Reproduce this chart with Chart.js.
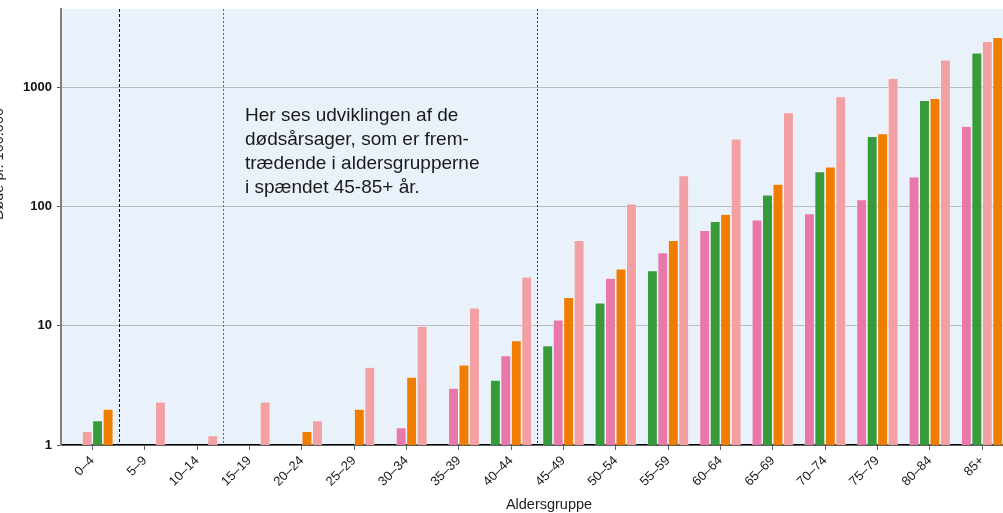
<!DOCTYPE html>
<html>
<head>
<meta charset="utf-8">
<script src="https://cdn.jsdelivr.net/npm/chart.js@4"></script>
<style>
  html, body { margin: 0; padding: 0; background: #fff; }
  #wrap { width: 1003px; height: 513px; }
</style>
</head>
<body>
<div id="wrap"><canvas id="chart"></canvas></div>
<script>
// Age groups on the x axis
const ageGroups = [
  "0–4", "5–9", "10–14", "15–19", "20–24", "25–29", "30–34", "35–39", "40–44",
  "45–49", "50–54", "55–59", "60–64", "65–69", "70–74", "75–79", "80–84", "85+",
]

// Deaths per 100.000, one array per cause (colour), null = not shown
const greenValues     = [1.6, null, null, null, null, null, null, null, 3.5, 6.8, 15.5, 29, 75, 125, 196, 386, 774, 1940]
const pinkValues      = [null, null, null, null, null, null, 1.4, 3.0, 5.6, 11.2, 25, 41, 63, 77, 87, 114, 177, 470]
const orangeValues    = [2.0, null, null, null, 1.3, 2.0, 3.7, 4.7, 7.5, 17.3, 30, 52, 86, 154, 214, 407, 804, 2610]
const lightPinkValues = [1.3, 2.3, 1.2, 2.3, 1.6, 4.5, 9.9, 14.1, 25.7, 52, 105, 181, 369, 610, 831, 1190, 1690, 2415]

const yTicks = [1, 10, 100, 1000]

const annotationLines = [
  "Her ses udviklingen af de",
  "dødsårsager, som er frem-",
  "trædende i aldersgrupperne",
  "i spændet 45-85+ år.",
]

// dashed separators sit between these group indexes (after index)
const separatorsAfter = [
  { after: 0, color: "#111", dash: [3, 2] },
  { after: 2, color: "#666", dash: [2, 2] },
  { after: 8, color: "#333", dash: [2, 2] },
]

const series = [
  { values: greenValues,     color: "#379a3b" },
  { values: pinkValues,      color: "#e878a9" },
  { values: orangeValues,    color: "#f07d00" },
  { values: lightPinkValues, color: "#f3a0a2" },
]

// Bars inside a group are sorted ascending and pushed to the right-hand slots
const SLOTS = 4
const slots = Array.from({ length: SLOTS }, () => ({ data: [], colors: [] }))
ageGroups.forEach((_, i) => {
  const bars = series
    .filter((s) => s.values[i] != null)
    .map((s) => ({ v: s.values[i], c: s.color }))
    .sort((a, b) => a.v - b.v)
  const first = SLOTS - bars.length
  for (let k = 0; k < SLOTS; k++) {
    const b = bars[k - first]
    slots[k].data.push({ x: i, y: b ? b.v : null })
    slots[k].colors.push(b ? b.c : "rgba(0,0,0,0)")
  }
})

const datasets = slots.map((s, k) => ({
  label: "slot " + (k + 1),
  data: s.data,
  backgroundColor: s.colors,
  borderColor: "rgba(255,255,255,0.8)",
  borderWidth: 0.6,
  categoryPercentage: 0.8,
  barPercentage: 0.97,
}))

Chart.defaults.font.family = "'Liberation Sans', Arial, sans-serif"
Chart.defaults.color = "#222"

const bgPlugin = {
  id: "plotBg",
  beforeDraw(chart) {
    const { ctx, chartArea: a } = chart
    ctx.save()
    ctx.fillStyle = "#e9f1fb"
    ctx.fillRect(a.left, a.top, a.right - a.left, a.bottom - a.top)
    ctx.restore()
  },
  beforeDatasetsDraw(chart) {
    const { ctx, chartArea: a, scales } = chart
    ctx.save()
    ctx.lineWidth = 1
    for (const sep of separatorsAfter) {
      const x = Math.round((scales.x.getPixelForValue(sep.after) + scales.x.getPixelForValue(sep.after + 1)) / 2) + 0.5
      ctx.strokeStyle = sep.color
      ctx.setLineDash(sep.dash)
      ctx.beginPath()
      ctx.moveTo(x, a.top)
      ctx.lineTo(x, a.bottom)
      ctx.stroke()
    }
    ctx.restore()
  },
  afterDraw(chart) {
    const { ctx } = chart
    ctx.save()
    ctx.fillStyle = "#1a1a1a"
    ctx.font = "19px 'Liberation Sans', Arial, sans-serif"
    ctx.textBaseline = "alphabetic"
    annotationLines.forEach((line, k) => ctx.fillText(line, 245, 121 + k * 24))

    // axis titles
    ctx.fillStyle = "#222"
    ctx.font = "14.5px 'Liberation Sans', Arial, sans-serif"
    ctx.textAlign = "center"
    ctx.fillText("Aldersgruppe", 549, 509)
    ctx.translate(3, 164)
    ctx.rotate(-Math.PI / 2)
    ctx.fillText("Døde pr. 100.000", 0, 0)
    ctx.restore()
  },
}

new Chart(document.getElementById("chart"), {
  type: "bar",
  data: { datasets },
  plugins: [bgPlugin],
  options: {
    responsive: true,
    maintainAspectRatio: false,
    animation: false,
    layout: { padding: { top: 9, left: 0, right: 0, bottom: 0 } },
    plugins: { legend: { display: false }, tooltip: { enabled: false } },
    scales: {
      x: {
        type: "linear",
        min: -0.6,
        max: 17.4,
        offset: false,
        afterBuildTicks: (scale) => { scale.ticks = ageGroups.map((_, i) => ({ value: i })) },
        afterFit: (scale) => { scale.height = 68; scale.paddingLeft = 0; scale.paddingRight = 0 },
        ticks: {
          autoSkip: false,
          minRotation: 45,
          maxRotation: 45,
          padding: 3,
          font: { size: 13 },
          color: "#1a1a1a",
          callback: (v) => ageGroups[Math.round(v)],
        },
        grid: { offset: false, drawOnChartArea: false, drawTicks: true, tickLength: 5, tickColor: "#666" },
        border: { display: true, color: "#000", width: 1.5 },
      },
      y: {
        type: "logarithmic",
        min: 1,
        max: 4520,
        afterBuildTicks: (scale) => { scale.ticks = yTicks.map((v) => ({ value: v })) },
        afterFit: (scale) => { scale.width = 61; scale.paddingTop = 0; scale.paddingBottom = 0 },
        ticks: {
          padding: 5,
          font: { size: 13, weight: "bold" },
          color: "#111",
          callback: (v) => String(v),
        },
        grid: { color: "#b9bcc0", lineWidth: 1, tickLength: 4, tickColor: "#555" },
        border: { display: true, color: "#808080", width: 2 },
      },
    },
  },
})
</script>
</body>
</html>
